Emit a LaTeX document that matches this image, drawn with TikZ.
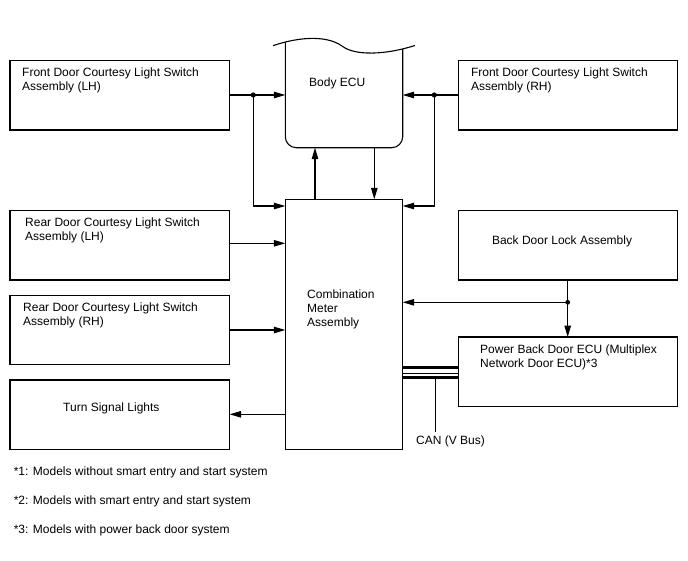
\documentclass[tikz,border=0pt]{standalone}
\usepackage{fontspec}
\setmainfont{Liberation Sans}
\usetikzlibrary{arrows.meta,calc}
\begin{document}
\begin{tikzpicture}[x=1pt,y=-1pt,
  line/.style={line width=1.1pt, draw=black},
  box/.style={line, rectangle, anchor=north west, inner sep=0pt, outer sep=0pt, minimum width=219.6pt, minimum height=69.3pt},
  ghost/.style={rectangle, anchor=north west, inner sep=0pt, outer sep=0pt},
  txt/.style={anchor=base west, inner sep=0pt, align=left, font=\fontsize{12}{14}\selectfont},
  arr/.style={line, -{Triangle[length=11.5pt,width=6.5pt]}},
  jdot/.style={fill=black}]
\useasboundingbox (0,0) rectangle (688,560);
\fill[white] (0,0) rectangle (688,560);

% boxes
\node[box] (fl) at (10,60.7) {};
\node[box, minimum width=219.4pt] (fr) at (458.3,60.7) {};
\node[box] (rl) at (10,210.7) {};
\node[box, minimum height=68.6pt] (rr) at (10,295.7) {};
\node[box] (ts) at (10,380) {};
\node[box, minimum width=219.4pt] (bdl) at (458.3,210.7) {};
\node[box, minimum width=219.4pt, minimum height=69.7pt] (pbd) at (458.3,337) {};
\node[box, minimum width=117.4pt, minimum height=250pt] (meter) at (285.3,199.3) {};
\node[ghost, minimum width=117.4pt, minimum height=105.4pt] (becu) at (285.3,42.3) {};

% Body ECU outline
\draw[line, rounded corners=11pt] (285.3,42.3) -- (285.3,147.7) -- (402.7,147.7) -- (402.7,49.2);
\draw[line] (273,45.7) .. controls (295,38) and (325,34) .. (342,46)
  .. controls (355,56) and (385,55) .. (415,45.5);

% texts (base anchor = baseline of the last line)
\node[txt] (tfl) at (22,90.5) {Front Door Courtesy Light Switch\\Assembly (LH)};
\node[txt] (tfr) at (470.8,90.5) {Front Door Courtesy Light Switch\\Assembly (RH)};
\node[txt] (tbe) at (309,86.3) {Body ECU};
\node[txt] (trl) at (25,240) {Rear Door Courtesy Light Switch\\Assembly (LH)};
\node[txt] (trr) at (23,325.5) {Rear Door Courtesy Light Switch\\Assembly (RH)};
\node[txt] (tts) at (63,411) {Turn Signal Lights};
\node[txt] (tme) at (307,326) {Combination\\Meter\\Assembly};
\node[txt] (tbd) at (491.8,244.6) {Back Door Lock Assembly};
\node[txt] (tpb) at (480,367) {Power Back Door ECU (Multiplex\\Network Door ECU)*3};
\node[txt, inner sep=3.5pt] (can) at (412.5,444.6) {CAN (V Bus)};
\node[txt] (n1) at (13.6,475) {*1: Models without smart entry and start system};
\node[txt] (n2) at (13.6,504) {*2: Models with smart entry and start system};
\node[txt] (n3) at (13.6,533) {*3: Models with power back door system};

% junctions
\coordinate (j1) at (253.3,95);
\coordinate (j2) at (434.3,95);
\coordinate (j3) at (567.7,302.3);
\coordinate (a1) at (315,0);
\coordinate (a2) at (374.3,0);

% connectors
\draw[arr] (fl.east |- j1) -- (becu.west |- j1);
\draw[arr] (j1) |- (meter.west |- 0,206);
\draw[arr] (fr.west |- j2) -- (becu.east |- j2);
\draw[arr] (j2) |- (meter.east |- 0,206);
\draw[arr] (a1 |- meter.north) -- (a1 |- becu.south);
\draw[arr] (a2 |- becu.south) -- (a2 |- meter.north);
\draw[arr] (rl.east |- 0,243.3) -- (meter.west |- 0,243.3);
\draw[arr] (rr.east |- 0,330) -- (meter.west |- 0,330);
\draw[arr] (meter.west |- 0,414.3) -- (ts.east |- 0,414.3);
\draw[arr] (bdl.south -| j3) -- (pbd.north -| j3);
\draw[arr] (j3) -- (meter.east |- j3);
\fill[jdot] (j1) circle (2.6pt);
\fill[jdot] (j2) circle (2.6pt);
\fill[jdot] (j3) circle (2.4pt);

% CAN bus
\draw[line width=3.2pt] (meter.east |- 0,367.6) -- (pbd.west |- 0,367.6);
\draw[line width=1.3pt] (meter.east |- 0,373.4) -- (pbd.west |- 0,373.4);
\draw[line width=2.8pt] (meter.east |- 0,377.6) -- (pbd.west |- 0,377.6);
\coordinate (canx) at (435.7,377.6);
\draw[line] (canx) -- (canx |- can.north);
\end{tikzpicture}
\end{document}
